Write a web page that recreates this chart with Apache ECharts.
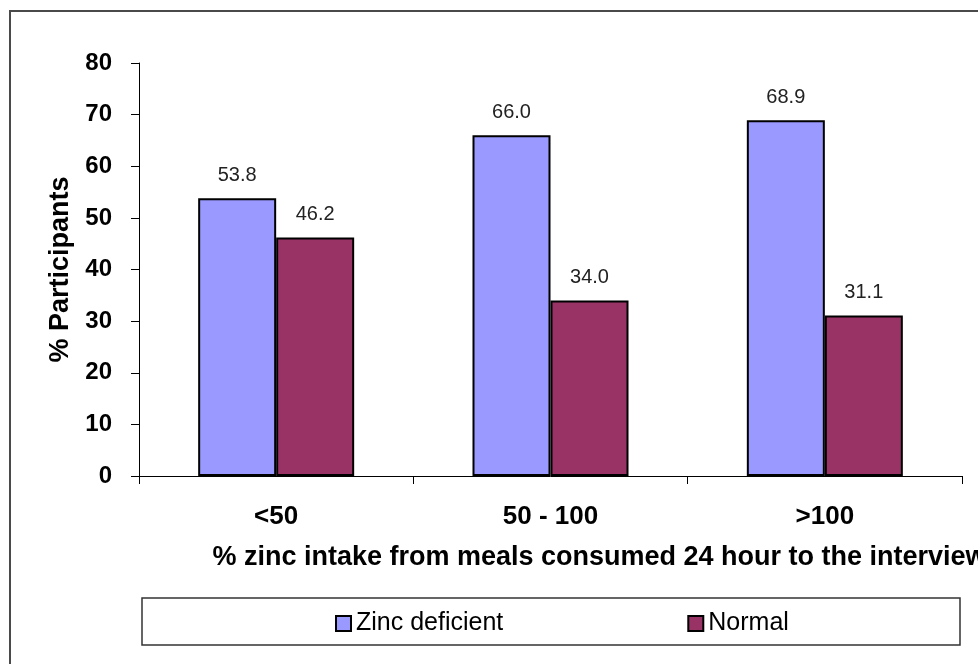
<!DOCTYPE html>
<html>
<head>
<meta charset="utf-8">
<script src="https://cdn.jsdelivr.net/npm/echarts@6/dist/echarts.min.js"></script>
<style>
html,body{margin:0;padding:0;background:#fff;}
#chart{width:978px;height:664px;}
</style>
</head>
<body>
<div id="chart"></div>
<script>
var categories = ['<50', '50 - 100', '>100'];
var zincDeficient = [53.8, 66.0, 68.9];
var normal = [46.2, 34.0, 31.1];
var seriesNames = ['Zinc deficient', 'Normal'];
var yTitle = '% Participants';
var xTitle = '% zinc intake from meals consumed 24 hour to the interview';

var FONT = '"Liberation Sans", Arial, sans-serif';
var chart = echarts.init(document.getElementById('chart'), null, {renderer: 'canvas'});
var labelCfg = {
  show: true, position: 'top', distance: 13,
  color: '#222', fontFamily: FONT, fontSize: 20,
  formatter: function (p) { return p.value.toFixed(1); }
};
chart.setOption({
  animation: false,
  backgroundColor: '#fff',
  graphic: [
    {type: 'rect', shape: {x: 10, y: 11, width: 1000, height: 700},
     style: {fill: 'none', stroke: '#4a4a4a', lineWidth: 2}, z: -1},
    {type: 'rect', shape: {x: 142, y: 598, width: 818, height: 47},
     style: {fill: 'none', stroke: '#333', lineWidth: 1.5}, z: -1}
  ],
  grid: {left: 139, right: 16, top: 63, bottom: 188, containLabel: false, outerBoundsMode: 'none'},
  legend: {
    left: 330, top: 606,
    itemWidth: 15, itemHeight: 15, itemGap: 184,
    icon: 'rect',
    textStyle: {fontFamily: FONT, fontSize: 25, color: '#000'},
    data: seriesNames
  },
  xAxis: {
    type: 'category',
    data: categories,
    axisLine: {lineStyle: {color: '#000', width: 1}},
    axisTick: {show: true, length: 8, lineStyle: {color: '#000'}},
    axisLabel: {fontFamily: FONT, fontSize: 26, fontWeight: 'bold', color: '#000', margin: 28},
    name: xTitle,
    nameLocation: 'middle',
    nameGap: 68,
    nameTextStyle: {fontFamily: FONT, fontSize: 27, fontWeight: 'bold', color: '#000', padding: [0, 0, 0, 98]}
  },
  yAxis: {
    type: 'value', min: 0, max: 80, interval: 10,
    splitLine: {show: false},
    axisLine: {show: true, lineStyle: {color: '#000', width: 1}},
    axisTick: {show: true, length: 8, lineStyle: {color: '#000'}},
    axisLabel: {fontFamily: FONT, fontSize: 24, fontWeight: 'bold', color: '#000', margin: 27},
    name: yTitle,
    nameLocation: 'middle',
    nameGap: 63,
    nameTextStyle: {fontFamily: FONT, fontSize: 27, fontWeight: 'bold', color: '#000'}
  },
  series: [
    {name: seriesNames[0], type: 'bar', data: zincDeficient, barWidth: 78, barGap: '0%',
     itemStyle: {color: '#9999FF', borderColor: '#000', borderWidth: 2}, label: labelCfg},
    {name: seriesNames[1], type: 'bar', data: normal, barWidth: 78, barGap: '0%',
     itemStyle: {color: '#993366', borderColor: '#000', borderWidth: 2}, label: labelCfg}
  ]
});
</script>
</body>
</html>
